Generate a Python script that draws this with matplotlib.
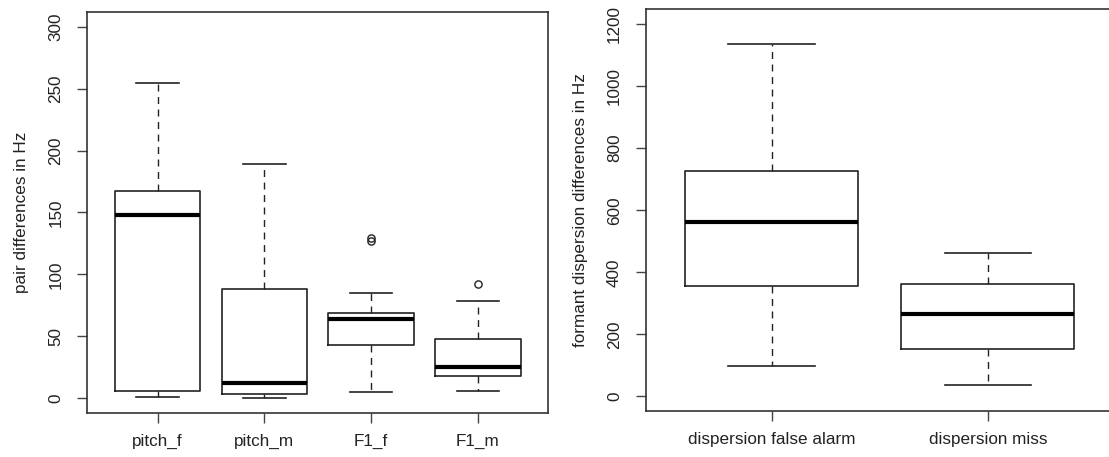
import matplotlib
matplotlib.use("Agg")
import matplotlib.pyplot as plt

plt.rcParams['font.family'] = ['Liberation Sans', 'DejaVu Sans']

# --- left panel: pair differences ---
pair_labels = ["pitch_f", "pitch_m", "F1_f", "F1_m"]
pair_whislo = [1, 0, 5, 6]
pair_q1 = [6, 3.5, 43, 18]
pair_med = [148, 12, 64, 25.5]
pair_q3 = [167, 88, 68.5, 47.5]
pair_whishi = [255, 189.5, 85, 78.5]
pair_fliers = [[], [], [127, 129], [92]]

# --- right panel: formant dispersion differences ---
disp_labels = ["dispersion false alarm", "dispersion miss"]
disp_whislo = [99, 37]
disp_q1 = [355, 152]
disp_med = [562, 265]
disp_q3 = [727, 361]
disp_whishi = [1135, 461]
disp_fliers = [[], []]

FS = 12.3


def make_stats(labels, lo, q1, med, q3, hi, fl):
    return [dict(label=l, whislo=a, q1=b, med=c, q3=d, whishi=e, fliers=f)
            for l, a, b, c, d, e, f in zip(labels, lo, q1, med, q3, hi, fl)]


def r_boxplot(ax, stats, ylim, yticks, ylabel, labelpad):
    n = len(stats)
    ax.bxp(stats, widths=0.8, capwidths=0.4, patch_artist=False,
           boxprops=dict(color='#222222', linewidth=1.2),
           medianprops=dict(color='black', linewidth=3, solid_capstyle='butt'),
           whiskerprops=dict(color='#222222', linewidth=1, linestyle=(0, (5, 4))),
           capprops=dict(color='#222222', linewidth=1.2),
           flierprops=dict(marker='o', markersize=5.2, markerfacecolor='none',
                           markeredgecolor='#222222', markeredgewidth=1))
    span = ylim[1] - ylim[0]
    ax.set_ylim(ylim[0] - 0.04 * span, ylim[1] + 0.04 * span)
    ax.set_xlim(0.5 - 0.04 * n, n + 0.5 + 0.04 * n)
    ax.set_yticks(yticks)
    ax.set_yticklabels([str(t) for t in yticks], rotation=90, va='center')
    ax.tick_params(axis='y', direction='out', length=7.2, width=1,
                   colors='#444444', labelcolor='#222222', labelsize=FS, pad=10)
    ax.tick_params(axis='x', direction='out', length=7.2, width=1,
                   colors='#444444', labelcolor='#222222', labelsize=FS, pad=8)
    ax.set_ylabel(ylabel, fontsize=FS, color='#222222', labelpad=labelpad)
    for s in ax.spines.values():
        s.set_color('#333333')
        s.set_linewidth(1.2)


fig = plt.figure(figsize=(11.09, 4.57), dpi=100)
ax1 = fig.add_axes([0.0787, 0.0963, 0.4157, 0.8775])
ax2 = fig.add_axes([0.5825, 0.100, 0.4215, 0.880])

r_boxplot(ax1, make_stats(pair_labels, pair_whislo, pair_q1, pair_med,
                          pair_q3, pair_whishi, pair_fliers),
          (0, 300), [0, 50, 100, 150, 200, 250, 300],
          "pair differences in Hz", 14)
r_boxplot(ax2, make_stats(disp_labels, disp_whislo, disp_q1, disp_med,
                          disp_q3, disp_whishi, disp_fliers),
          (0, 1200), [0, 200, 400, 600, 800, 1000, 1200],
          "formant dispersion differences in Hz", 14)

fig.savefig("out.png", dpi=100)
